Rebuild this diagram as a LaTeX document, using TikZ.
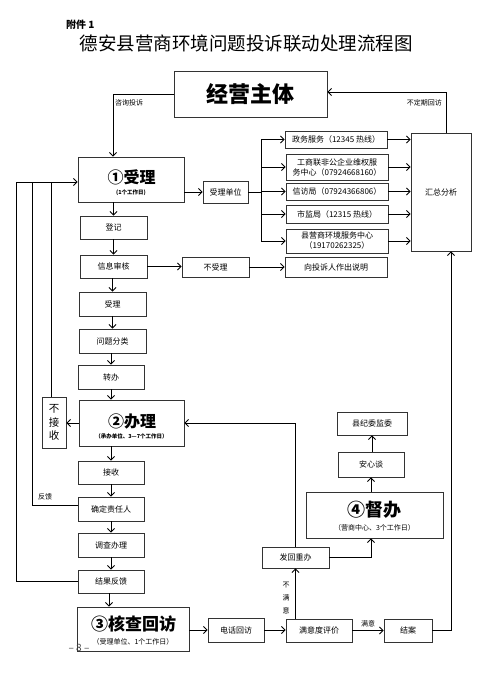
\documentclass[tikz,border=0pt]{standalone}
\usepackage{fontspec}
\setmainfont{Noto Sans CJK SC}
\usetikzlibrary{arrows.meta,calc}
\tikzset{
  bx/.style={draw=black!80, line width=0.9pt, inner sep=0pt, align=center, font=\fontsize{8}{10.5}\selectfont},
  wh/.style 2 args={minimum width=#1pt, minimum height=#2pt},
  arr/.style={-{Straight Barb[length=3.5pt,width=7pt]}, line width=0.8pt},
  ln/.style={line width=0.8pt},
  lbl/.style={font=\fontsize{7}{11}\selectfont, inner sep=0pt},
  bigt/.style={font=\fontsize{16}{18}\selectfont\bfseries, inner sep=0pt},
  smallt/.style={font=\fontsize{5.5}{6}\selectfont\bfseries, inner sep=0pt},
}
\begin{document}
\begin{tikzpicture}[x=1pt,y=-1pt]
\useasboundingbox (0,0) rectangle (495,684);
% heading
\node[anchor=west, font=\fontsize{10}{12}\selectfont\bfseries, inner sep=0pt] (fujian) at (66,25) {附件 1};
\node[font=\fontsize{18.5}{22}\selectfont, inner sep=0pt] (title) at (246,43.5) {德安县营商环境问题投诉联动处理流程图};
% top
\node[bx, wh={153}{46}, font=\fontsize{22}{24}\selectfont\bfseries] (zhuti) at (250.5,94) {经营主体};
% left column
\node[bx, wh={106}{45}] (shouli1) at (131,179.5) {};
\node[bigt] (shouli1t) at (131.5,177) {①受理};
\node[smallt] (shouli1s) at (131,193) {(1个工作日)};
\node[bx, wh={45}{22}] (shoulidanwei) at (225.5,192) {受理单位};
\node[bx, wh={67}{23}] (dengji) at (113.5,227.5) {登记};
\node[bx, wh={67}{23}] (shenhe) at (113.5,266.5) {信息审核};
\node[bx, wh={67}{20}] (bushouli) at (215.5,267) {不受理};
\node[bx, wh={67}{24}] (shouli2) at (112.5,304) {受理};
\node[bx, wh={67}{24}] (fenlei) at (112.5,341) {问题分类};
\node[bx, wh={66}{24}] (zhuanban) at (111,377) {转办};
\node[bx, wh={105}{46}] (banli) at (131.5,423) {};
\node[bigt] (banlit) at (132,421) {②办理};
\node[smallt] (banlis) at (131.5,436) {（承办单位、3—7个工作日）};
\node[bx, wh={24}{51}, font=\fontsize{10.5}{13.5}\selectfont] (bujieshou) at (54,422.5) {不\\接\\收};
\node[bx, wh={66}{23}] (jieshou) at (111,472.5) {接收};
\node[bx, wh={66}{24}] (zeren) at (111,509) {确定责任人};
\node[bx, wh={66}{24}] (diaocha) at (111,545) {调查办理};
\node[bx, wh={66}{23}] (jieguo) at (111,581.5) {结果反馈};
\node[bx, wh={112}{44}] (hecha) at (133,629) {};
\node[bigt, font=\fontsize{17}{19}\selectfont\bfseries] (hechat) at (133.5,624) {③核查回访};
\node[smallt, font=\fontsize{7}{8}\selectfont] (hechas) at (133,642) {（受理单位、1个工作日）};
% bottom row
\node[bx, wh={56}{24}] (dianhua) at (236,630) {电话回访};
\node[bx, wh={66}{23}] (manyi) at (319,630.5) {满意度评价};
\node[bx, wh={48}{23}] (jiean) at (408,630.5) {结案};
\node[bx, wh={67}{21}] (fahui) at (295.5,557.5) {发回重办};
% supervision column
\node[bx, wh={137}{46}] (duban) at (374.5,515) {};
\node[bigt, font=\fontsize{18}{20}\selectfont\bfseries] (dubant) at (374,510) {④督办};
\node[smallt, font=\fontsize{7}{8}\selectfont] (dubans) at (374.5,528) {（营商中心、3个工作日）};
\node[bx, wh={66}{25}] (anxin) at (371,464.5) {安心谈};
\node[bx, wh={70}{23}] (jiwei) at (372,423.5) {县纪委监委};
% right group
\node[bx, wh={102}{17}] (zhengwu) at (336,139.5) {政务服务（12345 热线）};
\node[bx, wh={102}{26}, font=\fontsize{8}{10}\selectfont] (gongshang) at (337,167) {工商联非公企业维权服\\务中心（07924668160）};
\node[bx, wh={102}{17}] (xinfang) at (337,191.5) {信访局（07924366806）};
\node[bx, wh={102}{18}] (shijian) at (337,214) {市监局（12315 热线）};
\node[bx, wh={102}{24}, font=\fontsize{8}{10}\selectfont] (yingshang) at (337,241) {县营商环境服务中心\\（19170262325）};
\node[bx, wh={102}{20}] (shuoming) at (336,267) {向投诉人作出说明};
\node[bx, wh={60}{118}] (huizong) at (441,192) {汇总分析};
% page number
\node[font=\fontsize{10}{12}\selectfont, text=black!75, inner sep=0pt] (page) at (79,648) {– 8 –};

% connectors: top
\draw[arr] (zhuti.west) -| ($(shouli1.north)+(-18,0)$);
\node[lbl, anchor=west] (zixun) at (115,103) {咨询投诉};
\draw[arr] ($(huizong.north)+(5,0)$) |- ($(zhuti.east)+(0,-2)$);
\node[lbl, anchor=east] (budingqi) at (442,103) {不定期回访};
% feedback lines
\coordinate (fbA) at (16,182);
\coordinate (fbB) at (32,182);
\coordinate (fbC) at (51,182);
\draw[arr] (fbA) -- (fbA -| shouli1.west);
\draw[ln] (jieguo.west) -| (fbA);
\draw[ln] ($(zeren.west)+(0,-4)$) -| (fbB);
\draw[ln] ($(bujieshou.north)+(-3,0)$) -- (fbC);
\node[lbl] (fankui) at (45,497) {反馈};
% main chain
\draw[arr] (dengji.north |- shouli1.south) -- (dengji.north);
\draw[arr] (shenhe.north |- dengji.south) -- (shenhe.north);
\draw[arr] (shouli2.north |- shenhe.south) -- (shouli2.north);
\draw[arr] (fenlei.north |- shouli2.south) -- (fenlei.north);
\draw[arr] (zhuanban.north |- fenlei.south) -- (zhuanban.north);
\draw[arr] (zhuanban.south) -- (zhuanban.south |- banli.north);
\draw[arr] (jieshou.north |- banli.south) -- (jieshou.north);
\draw[arr] (zeren.north |- jieshou.south) -- (zeren.north);
\draw[arr] (diaocha.north |- zeren.south) -- (diaocha.north);
\draw[arr] (jieguo.north |- diaocha.south) -- (jieguo.north);
\draw[arr] ($(jieguo.south)+(-2,0)$) -- ($(jieguo.south |- hecha.north)+(-2,0)$);
\draw[arr] (banli.west) -- (bujieshou.east |- banli.west);
% side branches
\draw[arr] (shouli1.east |- shoulidanwei) -- (shoulidanwei.west);
\draw[arr] (shenhe.east) -- (bushouli.west |- shenhe);
\draw[arr] (bushouli.east) -- (shuoming.west |- bushouli);
\coordinate (bus) at (261,192);
\draw[ln] (shoulidanwei.east) -- (bus);
\draw[ln] (bus |- zhengwu) -- (bus |- yingshang);
\foreach \n in {zhengwu,gongshang,xinfang,shijian,yingshang} {
  \draw[arr] (bus |- \n) -- (\n.west);
  \draw[arr] (\n.east) -- (huizong.west |- \n);
}
% bottom
\draw[arr] (hecha.east |- dianhua) -- (dianhua.west);
\draw[arr] (dianhua.east) -- (manyi.west |- dianhua);
\draw[arr] (manyi.east) -- (jiean.west |- manyi) node[midway, above=3pt, lbl] (manyilbl) {满意};
\draw[arr] (fahui.south |- manyi.north) -- (fahui.south);
\node[lbl, align=center, font=\fontsize{7}{13}\selectfont] (bumanyi) at (286,598) {不\\满\\意};
\draw[arr] (fahui.east) -| (anxin.south |- duban.south);
\draw[arr] (fahui.north) |- (banli.east);
\draw[arr] (anxin.south |- duban.north) -- (anxin.south);
\draw[arr] (jiwei.south |- anxin.north) -- (jiwei.south);
\draw[arr] (jiean.east) -| ($(huizong.south)+(10,0)$);
\end{tikzpicture}
\end{document}
